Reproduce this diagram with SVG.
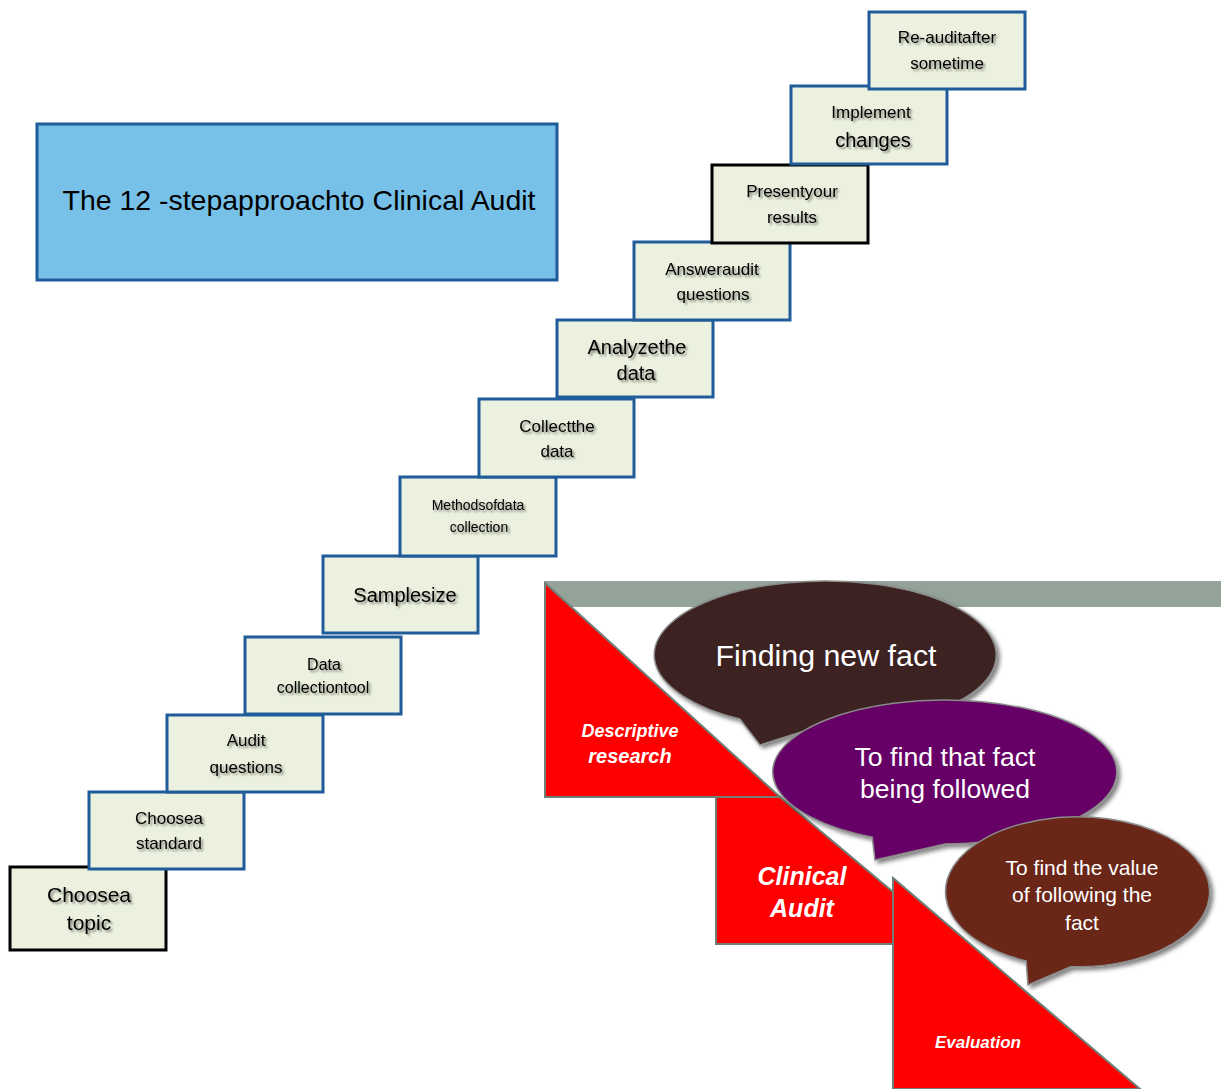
<svg xmlns="http://www.w3.org/2000/svg" width="1221" height="1089" viewBox="0 0 1221 1089">
<defs>
<filter id="ts" x="-10%" y="-30%" width="120%" height="160%">
<feGaussianBlur in="SourceAlpha" stdDeviation="1.2"/>
<feOffset dx="1.5" dy="1.5" result="b"/>
<feComponentTransfer><feFuncA type="linear" slope="0.45"/></feComponentTransfer>
<feMerge><feMergeNode/><feMergeNode in="SourceGraphic"/></feMerge>
</filter>
<filter id="bs" x="-10%" y="-10%" width="125%" height="125%">
<feGaussianBlur in="SourceAlpha" stdDeviation="2"/>
<feOffset dx="3" dy="3"/>
<feComponentTransfer><feFuncA type="linear" slope="0.5"/></feComponentTransfer>
<feMerge><feMergeNode/><feMergeNode in="SourceGraphic"/></feMerge>
</filter>
</defs>
<style>
.box{fill:#EBF1DE;stroke:#1F5C99;stroke-width:3}
.boxk{fill:#EBF1DE;stroke:#000;stroke-width:3}
.bt{font-family:"Liberation Sans",Arial,sans-serif;fill:#000;text-anchor:middle;filter:url(#ts)}
.red{fill:#FF0000;stroke:#6E7F76;stroke-width:2}
.rt{font-family:"Liberation Sans",Arial,sans-serif;fill:#fff;font-weight:bold;font-style:italic;text-anchor:middle}
.wt{font-family:"Liberation Sans",Arial,sans-serif;fill:#fff;text-anchor:middle}
.bub{stroke:#8a8a8a;stroke-width:1.5;filter:url(#bs)}
</style>
<rect x="0" y="0" width="1221" height="1089" fill="#fff"/>

<g id="title">
<rect x="37" y="124" width="520" height="156" fill="#77C1E8" stroke="#1F5C99" stroke-width="3"/>
<text x="299" y="210" font-family="Liberation Sans,Arial,sans-serif" font-size="28" text-anchor="middle" fill="#000" textLength="473" lengthAdjust="spacingAndGlyphs">The 12 -stepapproachto Clinical Audit</text>
</g>

<g id="step1"><rect class="boxk" x="10" y="867" width="156" height="83"/>
<text class="bt" x="89" y="902" font-size="21">Choosea</text><text class="bt" x="89" y="930" font-size="21">topic</text></g>
<g id="step2"><rect class="box" x="89" y="792" width="155" height="77"/>
<text class="bt" x="169" y="824" font-size="17">Choosea</text><text class="bt" x="169" y="849" font-size="17">standard</text></g>
<g id="step3"><rect class="box" x="167" y="715" width="156" height="77"/>
<text class="bt" x="246" y="746" font-size="17">Audit</text><text class="bt" x="246" y="773" font-size="17">questions</text></g>
<g id="step4"><rect class="box" x="245" y="637" width="156" height="77"/>
<text class="bt" x="324" y="670" font-size="16">Data</text><text class="bt" x="323" y="693" font-size="16">collectiontool</text></g>
<g id="step5"><rect class="box" x="323" y="556" width="155" height="77"/>
<text class="bt" x="405" y="602" font-size="20">Samplesize</text></g>
<g id="step6"><rect class="box" x="400" y="477" width="156" height="79"/>
<text class="bt" x="478" y="510" font-size="14">Methodsofdata</text><text class="bt" x="479" y="532" font-size="14">collection</text></g>
<g id="step7"><rect class="box" x="479" y="399" width="155" height="78"/>
<text class="bt" x="557" y="432" font-size="17">Collectthe</text><text class="bt" x="557" y="457" font-size="17">data</text></g>
<g id="step8"><rect class="box" x="557" y="320" width="156" height="77"/>
<text class="bt" x="637" y="354" font-size="20">Analyzethe</text><text class="bt" x="636" y="380" font-size="20">data</text></g>
<g id="step9"><rect class="box" x="634" y="242" width="156" height="78"/>
<text class="bt" x="712" y="275" font-size="17">Answeraudit</text><text class="bt" x="713" y="300" font-size="17">questions</text></g>
<g id="step10"><rect class="boxk" x="712" y="165" width="156" height="78"/>
<text class="bt" x="792" y="197" font-size="17">Presentyour</text><text class="bt" x="792" y="223" font-size="17">results</text></g>
<g id="step11"><rect class="box" x="791" y="86" width="156" height="78"/>
<text class="bt" x="871" y="118" font-size="17">Implement</text><text class="bt" x="873" y="147" font-size="20">changes</text></g>
<g id="step12"><rect class="box" x="869" y="12" width="156" height="77"/>
<text class="bt" x="947" y="43" font-size="17">Re-auditafter</text><text class="bt" x="947" y="69" font-size="17">sometime</text></g>

<g id="band"><rect x="545" y="581" width="676" height="26" fill="#93A399"/></g>

<g id="descriptive">
<polygon class="red" points="545,583 545,797 780,797"/>
<text class="rt" x="630" y="737" font-size="18">Descriptive</text>
<text class="rt" x="630" y="763" font-size="20">research</text>
</g>
<g id="clinical">
<polygon class="red" points="716,797 780,797 893,892 893,944 716,944"/>
<text class="rt" x="802" y="885" font-size="25">Clinical</text>
<text class="rt" x="802" y="917" font-size="25">Audit</text>
</g>
<g id="evaluation">
<polygon class="red" points="893,878 893,1089 1140,1089"/>
<text class="rt" x="978" y="1048" font-size="17">Evaluation</text>
</g>

<g id="bubble1">
<path class="bub" fill="#3E2320" d="M 740 719.1 A 171 74 0 1 1 811.1 728.7 L 760 745 Z"/>
<text class="wt" x="826" y="666" font-size="29" textLength="221" lengthAdjust="spacingAndGlyphs">Finding new fact</text>
</g>
<g id="bubble2">
<path class="bub" fill="#660066" d="M 872.3 837.3 A 172 72 0 1 1 945 844 L 875 860 Z"/>
<text class="wt" x="945" y="766" font-size="26" textLength="181" lengthAdjust="spacingAndGlyphs">To find that fact</text>
<text class="wt" x="945" y="798" font-size="26" textLength="170" lengthAdjust="spacingAndGlyphs">being followed</text>
</g>
<g id="bubble3">
<path class="bub" fill="#6B2519" d="M 1026.2 960.9 A 132 75 0 1 1 1070.5 966.7 L 1028 985 Z"/>
<text class="wt" x="1082" y="875" font-size="21">To find the value</text>
<text class="wt" x="1082" y="902" font-size="21">of following the</text>
<text class="wt" x="1082" y="930" font-size="21">fact</text>
</g>
<g id="connectors"/>
</svg>
